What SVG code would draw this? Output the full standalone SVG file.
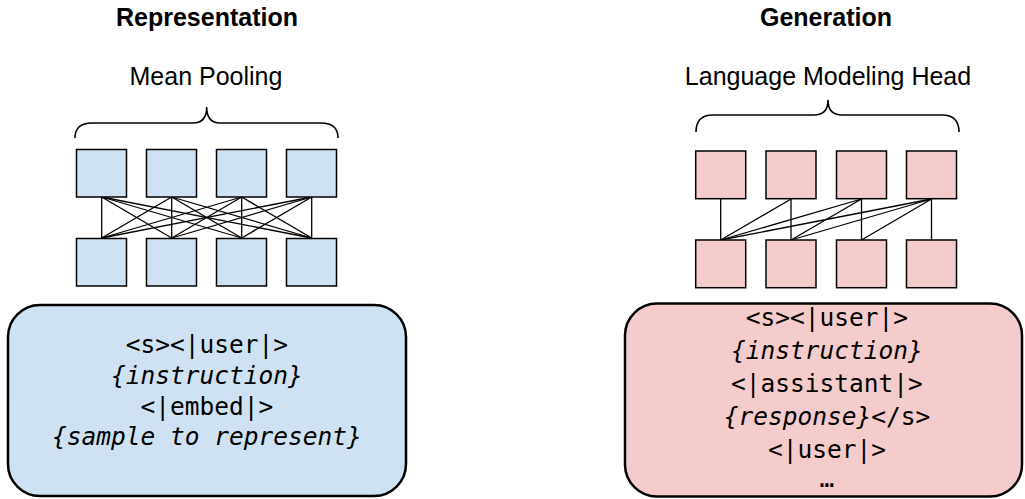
<svg xmlns="http://www.w3.org/2000/svg" width="1025" height="499" viewBox="0 0 1025 499">
<style>
.title{font-family:"Liberation Sans",Arial,sans-serif;font-size:25px;font-weight:bold;fill:#000;text-anchor:middle}
.sub{font-family:"Liberation Sans",Arial,sans-serif;font-size:25px;fill:#000;text-anchor:middle}
.mono{font-family:"DejaVu Sans Mono","Liberation Mono",monospace;font-size:24.5px;fill:#000;text-anchor:middle}
.it{font-style:italic}
.blue{fill:#cfe2f3;stroke:#000;stroke-width:1.5}
.pink{fill:#f4cccc;stroke:#000;stroke-width:1.5}
.bigblue{fill:#cfe2f3;stroke:#000;stroke-width:2.5}
.bigpink{fill:#f4cccc;stroke:#000;stroke-width:2.5}
.brace{fill:none;stroke:#000;stroke-width:1.6}
.conn line{stroke:#000;stroke-width:1.3}
</style>
<g id="titles">
<text class="title" x="207" y="26">Representation</text>
<text class="sub" x="206" y="85">Mean Pooling</text>
<text class="title" x="826" y="26">Generation</text>
<text class="sub" x="828" y="85">Language Modeling Head</text>
</g>
<g id="brace-left"><path class="brace" d="M75,138 Q75,123 92,123 L193,123 Q206.7,123 206.7,107 Q206.7,123 220,123 L321,123 Q338,123 338,138"/></g>
<g id="brace-right"><path class="brace" d="M696,132 Q696,115 713,115 L814,115 Q828,115 828,100 Q828,115 842,115 L942,115 Q959,115 959,132"/></g>
<g id="connectors-left" class="conn">
<line x1="101.7" y1="197" x2="101.7" y2="238"/><line x1="101.7" y1="197" x2="171.7" y2="238"/><line x1="101.7" y1="197" x2="241.7" y2="238"/><line x1="101.7" y1="197" x2="311.7" y2="238"/>
<line x1="171.7" y1="197" x2="101.7" y2="238"/><line x1="171.7" y1="197" x2="171.7" y2="238"/><line x1="171.7" y1="197" x2="241.7" y2="238"/><line x1="171.7" y1="197" x2="311.7" y2="238"/>
<line x1="241.7" y1="197" x2="101.7" y2="238"/><line x1="241.7" y1="197" x2="171.7" y2="238"/><line x1="241.7" y1="197" x2="241.7" y2="238"/><line x1="241.7" y1="197" x2="311.7" y2="238"/>
<line x1="311.7" y1="197" x2="101.7" y2="238"/><line x1="311.7" y1="197" x2="171.7" y2="238"/><line x1="311.7" y1="197" x2="241.7" y2="238"/><line x1="311.7" y1="197" x2="311.7" y2="238"/>
</g>
<g id="connectors-right" class="conn">
<line x1="720.7" y1="199" x2="720.7" y2="240"/>
<line x1="791" y1="199" x2="720.7" y2="240"/><line x1="791" y1="199" x2="791" y2="240"/>
<line x1="861.5" y1="199" x2="720.7" y2="240"/><line x1="861.5" y1="199" x2="791" y2="240"/><line x1="861.5" y1="199" x2="861.5" y2="240"/>
<line x1="931.5" y1="199" x2="720.7" y2="240"/><line x1="931.5" y1="199" x2="791" y2="240"/><line x1="931.5" y1="199" x2="861.5" y2="240"/><line x1="931.5" y1="199" x2="931.5" y2="240"/>
</g>
<g id="rep-top-1"><rect class="blue" x="76.5" y="149.5" width="50" height="47.5"/></g>
<g id="rep-top-2"><rect class="blue" x="146.5" y="149.5" width="50" height="47.5"/></g>
<g id="rep-top-3"><rect class="blue" x="216.5" y="149.5" width="50" height="47.5"/></g>
<g id="rep-top-4"><rect class="blue" x="286.5" y="149.5" width="50" height="47.5"/></g>
<g id="rep-bot-1"><rect class="blue" x="76.5" y="238.5" width="50" height="47.5"/></g>
<g id="rep-bot-2"><rect class="blue" x="146.5" y="238.5" width="50" height="47.5"/></g>
<g id="rep-bot-3"><rect class="blue" x="216.5" y="238.5" width="50" height="47.5"/></g>
<g id="rep-bot-4"><rect class="blue" x="286.5" y="238.5" width="50" height="47.5"/></g>
<g id="gen-top-1"><rect class="pink" x="695.7" y="151" width="50" height="47.7"/></g>
<g id="gen-top-2"><rect class="pink" x="766" y="151" width="50" height="47.7"/></g>
<g id="gen-top-3"><rect class="pink" x="836.5" y="151" width="50" height="47.7"/></g>
<g id="gen-top-4"><rect class="pink" x="906.5" y="151" width="50" height="47.7"/></g>
<g id="gen-bot-1"><rect class="pink" x="695.7" y="240" width="50" height="47.7"/></g>
<g id="gen-bot-2"><rect class="pink" x="766" y="240" width="50" height="47.7"/></g>
<g id="gen-bot-3"><rect class="pink" x="836.5" y="240" width="50" height="47.7"/></g>
<g id="gen-bot-4"><rect class="pink" x="906.5" y="240" width="50" height="47.7"/></g>
<g id="rep-input">
<rect class="bigblue" x="8" y="305" width="398" height="191" rx="32"/>
<text class="mono" x="207" y="353">&lt;s&gt;&lt;|user|&gt;</text>
<text class="mono it" x="207" y="384">{instruction}</text>
<text class="mono" x="207" y="415">&lt;|embed|&gt;</text>
<text class="mono it" x="207" y="445">{sample to represent}</text>
</g>
<g id="gen-input">
<rect class="bigpink" x="625" y="303.5" width="397" height="193" rx="32"/>
<text class="mono" x="827" y="326">&lt;s&gt;&lt;|user|&gt;</text>
<text class="mono it" x="827" y="359">{instruction}</text>
<text class="mono" x="827" y="392">&lt;|assistant|&gt;</text>
<text class="mono" x="827" y="425"><tspan class="it">{response}</tspan>&lt;/s&gt;</text>
<text class="mono" x="827" y="458">&lt;|user|&gt;</text>
<text class="mono" x="827" y="487">…</text>
</g>
</svg>
